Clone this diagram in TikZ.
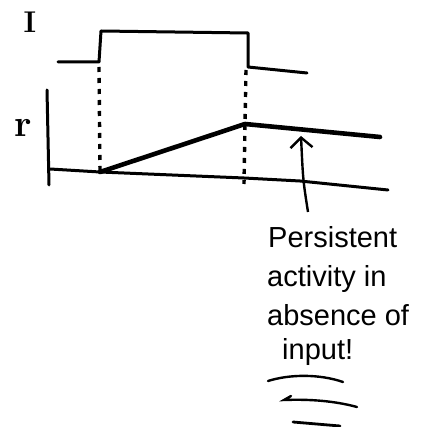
\documentclass[tikz,border=0pt]{standalone}
\usepackage{fontspec}
\newfontfamily\handfont{Liberation Sans}
\usetikzlibrary{arrows.meta}
\begin{document}
\begin{tikzpicture}[x=1pt,y=-1pt,
  stroke/.style={line width=3pt,line cap=round,line join=round},
  thick stroke/.style={line width=4.6pt,line cap=round,line join=round},
  dotted guide/.style={line width=3.4pt,dash pattern=on 5pt off 6pt},
  lbl/.style={inner sep=0pt,font=\bfseries\fontsize{30}{30}\selectfont},
  note/.style={inner sep=0pt,anchor=base west,font=\handfont\fontsize{29}{29}\selectfont},
  callout/.style={line width=2.4pt,-{Straight Barb[length=10pt,width=22pt,line width=2.4pt]}}]
\useasboundingbox (0,0) rectangle (444,427);
% labels
\node[lbl] (labelI) at (30,22) {I};
\node[lbl,font=\bfseries\fontsize{38}{38}\selectfont] (labelr) at (23,128) {r};
% input trace
\coordinate (i0) at (58,62);
\coordinate (i1) at (99,62);
\coordinate (i2) at (101,31);
\coordinate (i3) at (248,33);
\coordinate (i4) at (248,67);
\coordinate (i5) at (307,73);
\draw[stroke] (i0) -- (i1) -- (i2) -- (i3) -- (i4) -- (i5);
% r axis
\coordinate (ax0) at (47,90);
\coordinate (ax1) at (49,185);
\draw[stroke] (ax0) -- (ax1);
% baseline
\coordinate (b0) at (50,169);
\coordinate (b1) at (100,172);
\coordinate (b2) at (244,178);
\coordinate (b3) at (300,181);
\coordinate (b4) at (388,190);
\draw[stroke] (b0) -- (b1) -- (b2) -- (b3) -- (b4);
% r trace
\coordinate (r1) at (245,124);
\coordinate (r2) at (380,137);
\draw[thick stroke] (b1) -- (r1) -- (r2);
% dotted guides
\coordinate (d0) at (99,67);
\coordinate (d1) at (246,70);
\coordinate (d2) at (244,184);
\draw[dotted guide] (d0) -- (b1);
\draw[dotted guide] (d1) -- (r1) -- (d2);
% callout arrow
\coordinate (a0) at (308,212);
\coordinate (a1) at (301,136);
\draw[callout] (a0) .. controls (303,180) .. (a1);
% note text
\node[note] (n1) at (268,248) {Persistent};
\node[note] (n2) at (267,287) {activity in};
\node[note] (n3) at (267,326) {absence of};
\node[note] (n4) at (282,359) {input!};
% underline strokes
\coordinate (u1a) at (268,381);
\coordinate (u1b) at (343,382);
\coordinate (u2a) at (284,400);
\coordinate (u2b) at (357,407);
\coordinate (u3a) at (293,422);
\coordinate (u3b) at (340,426);
\draw[line width=2.4pt,line cap=round] (u1a) .. controls (290,374) and (320,374) .. (u1b);
\draw[line width=2.4pt,line cap=round] (291,396) -- (u2a) .. controls (310,399) and (335,401) .. (u2b);
\draw[line width=2.8pt,line cap=round] (u3a) -- (u3b);
\end{tikzpicture}
\end{document}
